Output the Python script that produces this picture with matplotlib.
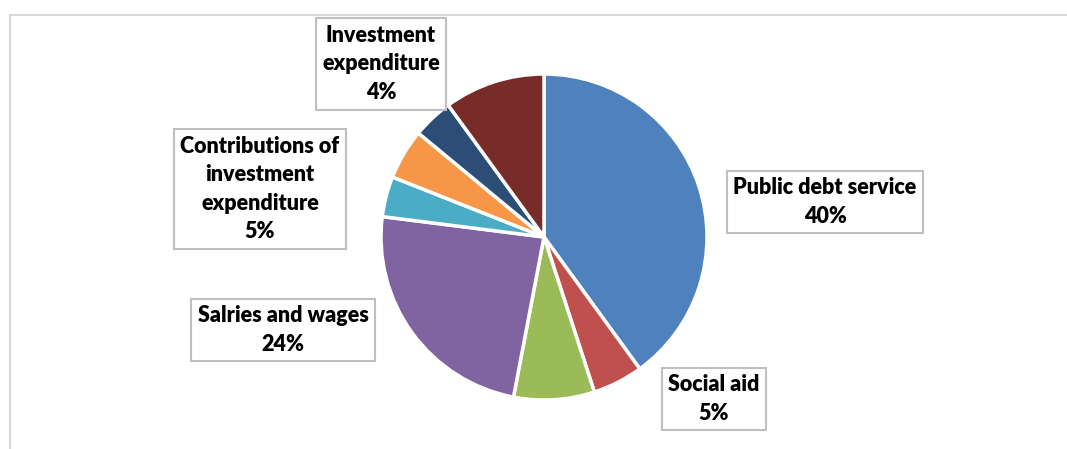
import matplotlib.pyplot as plt
from matplotlib.patches import Rectangle

# Expenditure shares (percent), clockwise from 12 o'clock
categories = [
    "Public debt service",
    "Social aid",
    "",
    "Salries and wages",
    "",
    "Contributions of\ninvestment\nexpenditure",
    "Investment\nexpenditure",
    "",
]
shares = [40, 5, 8, 24, 4, 5, 4, 10]
colors = ["#4F81BD", "#C0504D", "#9BBB59", "#8064A2",
          "#4BACC6", "#F79646", "#2C4D75", "#772C2A"]

# where each data label box sits (pixel centre in the 1067x449 canvas)
label_pos = {
    0: (825, 202),
    1: (714, 399),
    3: (283, 330),
    5: (260, 189),
    6: (381, 64),
}

W, H = 1067, 449
fig = plt.figure(figsize=(W / 100, H / 100), dpi=100)

# light chart-area frame that runs off the right and bottom edges
fig.patches.append(Rectangle((10 / W, -0.05), 1.1, 1 - 15 / H + 0.05,
                             transform=fig.transFigure, fill=False,
                             edgecolor="#d9d9d9", linewidth=1.5))

cx, cy, r = 544, 237, 163
ax = fig.add_axes([(cx - r) / W, (H - cy - r) / H, 2 * r / W, 2 * r / H])
ax.pie(shares, colors=colors, startangle=90, counterclock=False,
       wedgeprops=dict(edgecolor="white", linewidth=2.5))
ax.set_xlim(-1, 1)
ax.set_ylim(-1, 1)
ax.set_aspect("equal")
ax.axis("off")

for i, (px, py) in label_pos.items():
    txt = f"{categories[i]}\n{shares[i]}%"
    fig.text(px / W, 1 - py / H, txt, ha="center", va="center",
             fontsize=15.5, fontweight="heavy", family="Lato",
             linespacing=1.45, color="black",
             bbox=dict(boxstyle="square,pad=0.3", facecolor="white",
                       edgecolor="#bfbfbf", linewidth=1.5))

plt.savefig("out.png", dpi=100)
